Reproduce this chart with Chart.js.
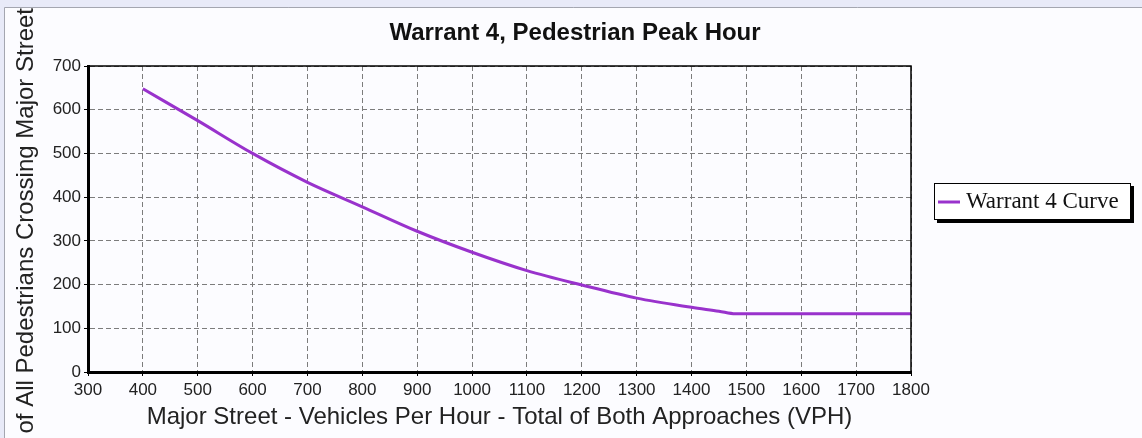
<!DOCTYPE html>
<html>
<head>
<meta charset="utf-8">
<title>Warrant 4, Pedestrian Peak Hour</title>
<script src="https://cdn.jsdelivr.net/npm/chart.js@4.4.1/dist/chart.umd.min.js"></script>
<style>
    html, body { margin: 0; padding: 0; background: #e8eaf8; }
    #wrap { width: 1142px; height: 438px; }
</style>
</head>
<body>
<div id="wrap"><canvas id="warrantChart" width="1142" height="438"></canvas></div>
<script>
// values
const vehiclesPerHour = [400, 500, 600, 700, 800, 900, 1000, 1100, 1200, 1300, 1400, 1450, 1480, 1800];
const pedestriansPerHour = [648, 575, 500, 434, 378, 322, 274, 232, 199, 169, 148, 139, 133, 133];

const seriesLabel = "Warrant 4 Curve";
const chartTitle = "Warrant 4, Pedestrian Peak Hour";
const xTitle = "Major Street - Vehicles Per Hour - Total of Both Approaches (VPH)";
const yTitle = "Total of All Pedestrians Crossing Major Street";

const xMin = 300, xMax = 1800, xStep = 100;
const yMin = 0, yMax = 700, yStep = 100;

// =========================
// background, frame, title, y title, legend
// =========================
const decorations = {
    id: 'decorations',
    beforeDraw(chart) {
        const ctx = chart.ctx;
        ctx.save();
        ctx.fillStyle = '#e8eaf8';
        ctx.fillRect(0, 0, chart.width, chart.height);
        ctx.fillStyle = '#fcfcff';
        ctx.fillRect(5, 8, chart.width - 5, chart.height - 8);
        ctx.strokeStyle = '#a4a6b0';
        ctx.lineWidth = 1;
        ctx.beginPath();
        ctx.moveTo(4.5, chart.height);
        ctx.lineTo(4.5, 7.5);
        ctx.lineTo(chart.width, 7.5);
        ctx.stroke();
        ctx.restore();
    },
    afterDraw(chart) {
        const { ctx, chartArea } = chart;
        ctx.save();

        // top + right frame lines
        ctx.strokeStyle = '#000';
        ctx.lineWidth = 1.5;
        ctx.beginPath();
        ctx.moveTo(chartArea.left, chartArea.top);
        ctx.lineTo(chartArea.right, chartArea.top);
        ctx.lineTo(chartArea.right, chartArea.bottom);
        ctx.stroke();

        // chart title
        ctx.fillStyle = '#111';
        ctx.font = 'bold 24px "Liberation Sans", Arial, sans-serif';
        ctx.textAlign = 'center';
        ctx.textBaseline = 'middle';
        ctx.fillText(chartTitle, 575, 33);

        // y axis title (clipped at the bottom like the original)
        ctx.save();
        ctx.translate(33, 0);
        ctx.rotate(-Math.PI / 2);
        ctx.font = '24px "Liberation Sans", Arial, sans-serif';
        ctx.fillStyle = '#222';
        ctx.textAlign = 'right';
        ctx.textBaseline = 'alphabetic';
        ctx.fillText(yTitle, -8, 0);
        ctx.restore();

        // legend box with shadow
        const ds = chart.data.datasets[0];
        const bx = 934, by = 183, bw = 197, bh = 37;
        ctx.fillStyle = '#000';
        ctx.fillRect(bx + 3, by + 3, bw, bh);
        ctx.fillStyle = '#fff';
        ctx.fillRect(bx, by, bw, bh);
        ctx.strokeStyle = '#000';
        ctx.lineWidth = 1;
        ctx.strokeRect(bx + 0.5, by + 0.5, bw - 1, bh - 1);
        ctx.strokeStyle = ds.borderColor;
        ctx.lineWidth = 3;
        ctx.beginPath();
        ctx.moveTo(bx + 4, by + 19);
        ctx.lineTo(bx + 26, by + 19);
        ctx.stroke();
        ctx.fillStyle = '#111';
        ctx.font = '23px "Liberation Serif", "Times New Roman", serif';
        ctx.textAlign = 'left';
        ctx.textBaseline = 'middle';
        ctx.fillText(ds.label, bx + 32, by + 19);

        ctx.restore();
    }
};

const ctx = document.getElementById('warrantChart');
const plainNumber = value => String(value);

new Chart(ctx.getContext('2d'), {
    type: 'line',
    data: {
        datasets: [{
            label: seriesLabel,
            data: vehiclesPerHour.map((v, i) => ({ x: v, y: pedestriansPerHour[i] })),
            borderColor: '#9932cc',
            borderWidth: 3,
            pointRadius: 0,
            cubicInterpolationMode: 'monotone',
            fill: false
        }]
    },
    options: {
        responsive: false,
        animation: false,
        devicePixelRatio: 1,
        layout: {
            padding: { top: 66, right: 231, bottom: 0, left: 0 }
        },
        plugins: {
            legend: { display: false },
            title: { display: false },
            tooltip: { enabled: false }
        },
        scales: {
            x: {
                type: 'linear',
                min: xMin,
                max: xMax,
                afterFit: scale => { scale.height = 66; },
                ticks: {
                    stepSize: xStep,
                    color: '#222',
                    padding: 4,
                    maxRotation: 0,
                    callback: plainNumber,
                    font: { family: '"Liberation Sans", Arial, sans-serif', size: 17 }
                },
                grid: {
                    color: '#7c7c7c',
                    lineWidth: 1,
                    tickLength: 4,
                    tickColor: '#000'
                },
                border: { display: true, color: '#000', width: 3, dash: [5, 3] },
                title: {
                    display: true,
                    text: xTitle,
                    color: '#222',
                    padding: { top: 0, bottom: 6 },
                    font: { family: '"Liberation Sans", Arial, sans-serif', size: 24 }
                }
            },
            y: {
                min: yMin,
                max: yMax,
                afterFit: scale => { scale.width = 88; },
                ticks: {
                    stepSize: yStep,
                    color: '#222',
                    padding: 3,
                    callback: plainNumber,
                    font: { family: '"Liberation Sans", Arial, sans-serif', size: 17 }
                },
                grid: {
                    color: '#7c7c7c',
                    lineWidth: 1,
                    tickLength: 4,
                    tickColor: '#000'
                },
                border: { display: true, color: '#000', width: 3, dash: [5, 3] }
            }
        }
    },
    plugins: [decorations]
});
</script>
</body>
</html>
